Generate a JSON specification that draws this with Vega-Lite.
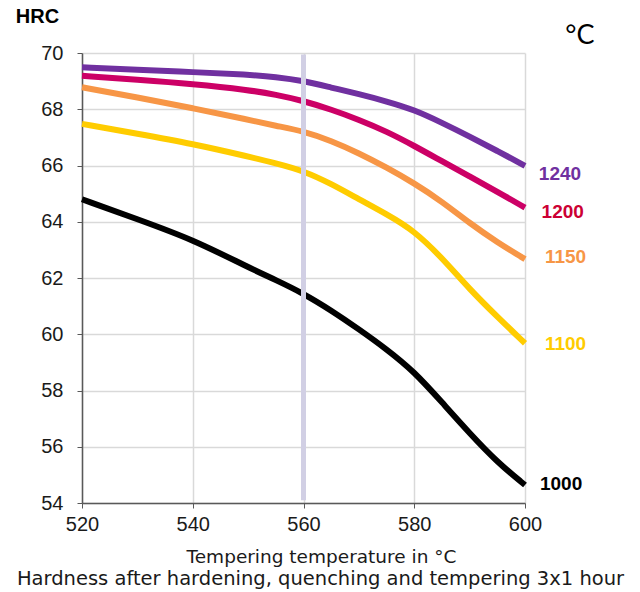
{
  "$schema": "https://vega.github.io/schema/vega-lite/v6.json",
  "width": 443,
  "height": 450,
  "autosize": {"type": "none"},
  "padding": {"left": 82, "top": 53, "right": 115, "bottom": 89},
  "background": "white",
  "config": {"view": {"stroke": null}},
  "title": {
    "text": "Hardness after hardening, quenching and tempering  3x1 hour",
    "orient": "bottom",
    "anchor": "middle",
    "font": "DejaVu Sans",
    "fontSize": 19.5,
    "fontWeight": "normal",
    "color": "#1a1a1a",
    "offset": 4,
    "dx": 17
  },
  "datasets": {
    "curves": [
      {"temp": 520, "hrc": 69.49, "series": "1240"},
      {"temp": 530, "hrc": 69.41, "series": "1240"},
      {"temp": 540, "hrc": 69.32, "series": "1240"},
      {"temp": 550, "hrc": 69.23, "series": "1240"},
      {"temp": 555, "hrc": 69.15, "series": "1240"},
      {"temp": 560, "hrc": 69.01, "series": "1240"},
      {"temp": 565, "hrc": 68.77, "series": "1240"},
      {"temp": 570, "hrc": 68.54, "series": "1240"},
      {"temp": 575, "hrc": 68.28, "series": "1240"},
      {"temp": 580, "hrc": 67.98, "series": "1240"},
      {"temp": 585, "hrc": 67.52, "series": "1240"},
      {"temp": 590, "hrc": 67.03, "series": "1240"},
      {"temp": 595, "hrc": 66.52, "series": "1240"},
      {"temp": 600, "hrc": 65.99, "series": "1240"},
      {"temp": 520, "hrc": 69.19, "series": "1200"},
      {"temp": 530, "hrc": 69.05, "series": "1200"},
      {"temp": 540, "hrc": 68.9, "series": "1200"},
      {"temp": 550, "hrc": 68.69, "series": "1200"},
      {"temp": 555, "hrc": 68.52, "series": "1200"},
      {"temp": 560, "hrc": 68.3, "series": "1200"},
      {"temp": 565, "hrc": 67.99, "series": "1200"},
      {"temp": 570, "hrc": 67.63, "series": "1200"},
      {"temp": 575, "hrc": 67.21, "series": "1200"},
      {"temp": 580, "hrc": 66.7, "series": "1200"},
      {"temp": 585, "hrc": 66.15, "series": "1200"},
      {"temp": 590, "hrc": 65.61, "series": "1200"},
      {"temp": 595, "hrc": 65.07, "series": "1200"},
      {"temp": 600, "hrc": 64.5, "series": "1200"},
      {"temp": 520, "hrc": 68.78, "series": "1150"},
      {"temp": 530, "hrc": 68.42, "series": "1150"},
      {"temp": 540, "hrc": 68.04, "series": "1150"},
      {"temp": 550, "hrc": 67.63, "series": "1150"},
      {"temp": 555, "hrc": 67.41, "series": "1150"},
      {"temp": 560, "hrc": 67.22, "series": "1150"},
      {"temp": 565, "hrc": 66.88, "series": "1150"},
      {"temp": 570, "hrc": 66.44, "series": "1150"},
      {"temp": 575, "hrc": 65.93, "series": "1150"},
      {"temp": 580, "hrc": 65.37, "series": "1150"},
      {"temp": 585, "hrc": 64.72, "series": "1150"},
      {"temp": 590, "hrc": 63.95, "series": "1150"},
      {"temp": 595, "hrc": 63.27, "series": "1150"},
      {"temp": 600, "hrc": 62.67, "series": "1150"},
      {"temp": 520, "hrc": 67.48, "series": "1100"},
      {"temp": 530, "hrc": 67.13, "series": "1100"},
      {"temp": 540, "hrc": 66.77, "series": "1100"},
      {"temp": 550, "hrc": 66.32, "series": "1100"},
      {"temp": 555, "hrc": 66.08, "series": "1100"},
      {"temp": 560, "hrc": 65.81, "series": "1100"},
      {"temp": 565, "hrc": 65.35, "series": "1100"},
      {"temp": 570, "hrc": 64.8, "series": "1100"},
      {"temp": 575, "hrc": 64.27, "series": "1100"},
      {"temp": 580, "hrc": 63.68, "series": "1100"},
      {"temp": 585, "hrc": 62.72, "series": "1100"},
      {"temp": 590, "hrc": 61.6, "series": "1100"},
      {"temp": 595, "hrc": 60.62, "series": "1100"},
      {"temp": 600, "hrc": 59.68, "series": "1100"},
      {"temp": 520, "hrc": 64.8, "series": "1000"},
      {"temp": 530, "hrc": 64.09, "series": "1000"},
      {"temp": 540, "hrc": 63.37, "series": "1000"},
      {"temp": 550, "hrc": 62.38, "series": "1000"},
      {"temp": 555, "hrc": 61.93, "series": "1000"},
      {"temp": 560, "hrc": 61.45, "series": "1000"},
      {"temp": 565, "hrc": 60.85, "series": "1000"},
      {"temp": 570, "hrc": 60.18, "series": "1000"},
      {"temp": 575, "hrc": 59.47, "series": "1000"},
      {"temp": 580, "hrc": 58.67, "series": "1000"},
      {"temp": 585, "hrc": 57.58, "series": "1000"},
      {"temp": 590, "hrc": 56.48, "series": "1000"},
      {"temp": 595, "hrc": 55.45, "series": "1000"},
      {"temp": 600, "hrc": 54.64, "series": "1000"}
    ],
    "labels": [
      {"temp": 602.5, "hrc": 65.7, "series": "1240"},
      {"temp": 603.0, "hrc": 64.33, "series": "1200"},
      {"temp": 603.6, "hrc": 62.76, "series": "1150"},
      {"temp": 603.6, "hrc": 59.65, "series": "1100"},
      {"temp": 602.7, "hrc": 54.67, "series": "1000"}
    ],
    "unit": [
      {"temp": 609.9, "hrc": 70.6, "text": "°C"}
    ],
    "band": [
      {"temp": 560, "top": 69.95, "bottom": 54.1}
    ]
  },
  "layer": [
    {
      "data": {"name": "curves"},
      "mark": {"type": "line", "interpolate": "basis", "strokeWidth": 6, "clip": false},
      "encoding": {
        "x": {
          "field": "temp",
          "type": "quantitative",
          "scale": {"domain": [520, 600], "nice": false, "zero": false},
          "axis": {
            "values": [520, 540, 560, 580, 600],
            "title": "Tempering temperature in °C",
            "titleFont": "DejaVu Sans",
            "titleFontSize": 18.5,
            "titleFontWeight": "normal",
            "titleColor": "#1a1a1a",
            "titlePadding": 13,
            "titleX": 239,
            "titleAlign": "center",
            "labelFont": "Liberation Sans",
            "labelFontSize": 20,
            "labelColor": "#1a1a1a",
            "labelPadding": 6,
            "labelFlush": false,
            "tickSize": 5,
            "tickColor": "#595959",
            "domainColor": "#595959",
            "domainWidth": 1.5,
            "gridColor": "#d9d9d9",
            "gridWidth": 1.5,
            "grid": true
          }
        },
        "y": {
          "field": "hrc",
          "type": "quantitative",
          "scale": {"domain": [54, 70], "nice": false, "zero": false},
          "axis": {
            "values": [54, 56, 58, 60, 62, 64, 66, 68, 70],
            "title": "HRC",
            "titleAngle": 0,
            "titleX": -45,
            "titleY": -37,
            "titleAlign": "center",
            "titleBaseline": "middle",
            "titleFont": "Liberation Sans",
            "titleFontSize": 20,
            "titleFontWeight": "bold",
            "titleColor": "#000000",
            "labelFont": "Liberation Sans",
            "labelFontSize": 20,
            "labelColor": "#1a1a1a",
            "labelPadding": 14,
            "labelFlush": false,
            "tickSize": 5,
            "tickColor": "#595959",
            "domainColor": "#595959",
            "domainWidth": 1.5,
            "gridColor": "#d9d9d9",
            "gridWidth": 1.5,
            "grid": true
          }
        },
        "color": {
          "field": "series",
          "type": "nominal",
          "scale": {
            "domain": ["1240", "1200", "1150", "1100", "1000"],
            "range": ["#7030a0", "#cc0066", "#f79646", "#ffcc00", "#000000"]
          },
          "legend": null
        }
      }
    },
    {
      "data": {"name": "band"},
      "mark": {"type": "rule", "strokeWidth": 5, "color": "#d1cfe4"},
      "encoding": {
        "x": {"field": "temp", "type": "quantitative"},
        "y": {"field": "top", "type": "quantitative"},
        "y2": {"field": "bottom"}
      }
    },
    {
      "data": {"name": "labels"},
      "mark": {"type": "text", "align": "left", "baseline": "middle", "font": "Liberation Sans", "fontSize": 19, "fontWeight": "bold", "clip": false},
      "encoding": {
        "x": {"field": "temp", "type": "quantitative"},
        "y": {"field": "hrc", "type": "quantitative"},
        "text": {"field": "series"},
        "color": {
          "field": "series",
          "type": "nominal",
          "scale": {
            "domain": ["1240", "1200", "1150", "1100", "1000"],
            "range": ["#7030a0", "#cc0033", "#f79646", "#ffcc00", "#000000"]
          },
          "legend": null
        }
      }
    },
    {
      "data": {"name": "unit"},
      "mark": {"type": "text", "align": "center", "baseline": "middle", "font": "Lato", "fontSize": 27, "color": "#000000", "clip": false},
      "encoding": {
        "x": {"field": "temp", "type": "quantitative"},
        "y": {"field": "hrc", "type": "quantitative"},
        "text": {"field": "text"}
      }
    }
  ],
  "resolve": {"scale": {"color": "independent"}}
}
